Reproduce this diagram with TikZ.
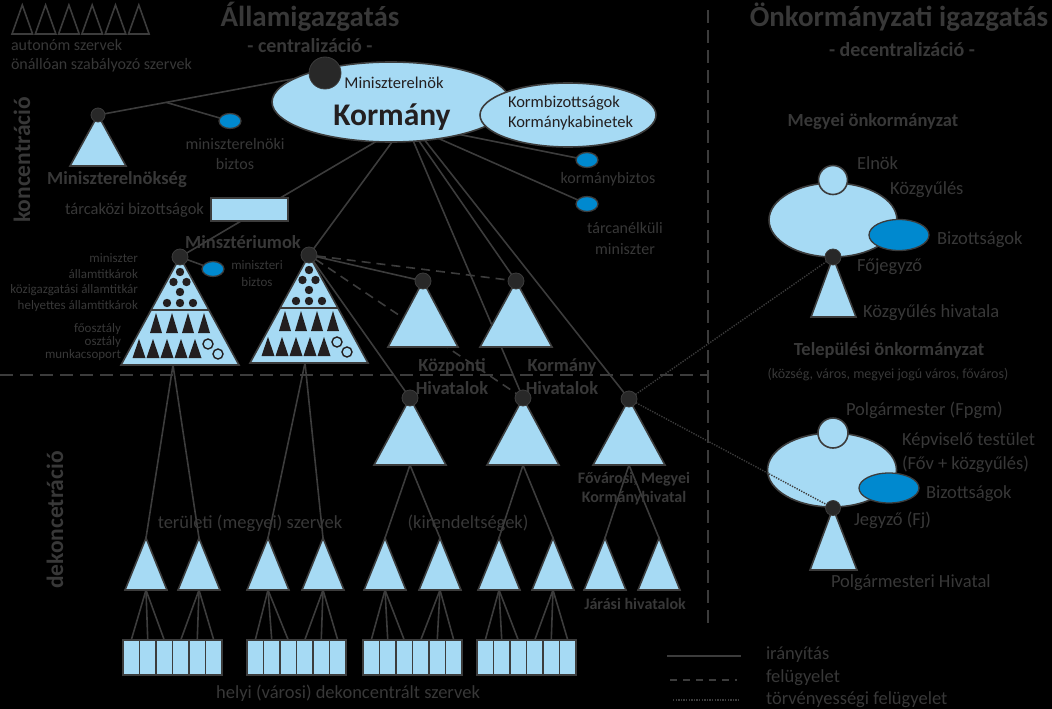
\documentclass[tikz,border=0pt]{standalone}
\usepackage{fontspec}
\setmainfont{Carlito}
\usetikzlibrary{shapes.geometric}
\pgfdeclarelayer{bg}
\pgfsetlayers{bg,main}
\definecolor{tg}{HTML}{383838}
\definecolor{lg}{HTML}{3C3C3C}
\definecolor{lb}{HTML}{A6DAF4}
\definecolor{db}{HTML}{0089CF}
\definecolor{dk}{HTML}{282828}
\definecolor{ink}{HTML}{231F20}
\tikzset{
  lbl/.style={text=tg, inner sep=0pt, outer sep=0pt, font=\fontsize{18.5}{22}\selectfont},
  lblb/.style={lbl, font=\bfseries\fontsize{18.5}{23}\selectfont},
  lblm/.style={lbl, font=\fontsize{16}{20.5}\selectfont},
  lbls/.style={lbl, font=\fontsize{13}{15.7}\selectfont},
  conn/.style={draw=lg, line width=1.6pt},
  supv/.style={conn, dash pattern=on 9pt off 6pt},
  legal/.style={draw=lg, line width=1.4pt, dash pattern=on 1.3pt off 1.3pt},
  divider/.style={draw=lg, line width=1.6pt, dash pattern=on 13pt off 7pt},
  tristyle/.style={fill=lb, draw=lg, line width=1.6pt, line join=miter},
  hub/.style={circle, fill=dk, draw=lg, line width=0.8pt, minimum size=16pt, inner sep=0pt, outer sep=0pt},
  blueov/.style={ellipse, fill=db, draw=lg, line width=1.3pt, minimum width=22pt, minimum height=15pt, inner sep=0pt, outer sep=0pt},
  lightov/.style={ellipse, fill=lb, draw=lg, line width=1.6pt, inner sep=0pt, outer sep=0pt},
  rectst/.style={rectangle, fill=lb, draw=lg, line width=1.6pt, minimum width=16.5pt, minimum height=35pt, inner sep=0pt, outer sep=0pt},
}
\begin{document}
\begin{tikzpicture}[x=1pt,y=-1pt]
\begin{pgfonlayer}{bg}
\fill[black] (0,0) rectangle (1052,709);
\end{pgfonlayer}
\useasboundingbox (0,0) rectangle (1052,709);

% autonomous organs legend
\foreach \x in {12,35.3,58.6,81.9,105.2,128.5}
  \draw[draw=lg, line width=1.6pt, line join=miter] (\x,34) -- (\x+10.3,5) -- (\x+20.6,34) -- cycle;
\node[lblm, anchor=west] (aut1) at (11,45) {autonóm szervek};
\node[lblm, anchor=west] (aut2) at (11,65) {önállóan szabályozó szervek};

% titles
\node[lbl, font=\bfseries\fontsize{29}{34}\selectfont] (t1) at (310,17) {Államigazgatás};
\node[lbl, font=\bfseries\fontsize{20}{24}\selectfont] (t1s) at (310,46) {- centralizáció -};
\node[lbl, font=\bfseries\fontsize{29}{34}\selectfont] (t2) at (899,17) {Önkormányzati igazgatás};
\node[lbl, font=\bfseries\fontsize{20}{24}\selectfont] (t2s) at (902,50) {- decentralizáció -};
\node[lbl, font=\bfseries\fontsize{23.5}{28}\selectfont, rotate=90] (konc) at (22,160) {koncentráció};
\node[lbl, font=\bfseries\fontsize{23.5}{28}\selectfont, rotate=90] (dekonc) at (55,520) {dekoncetráció};

% Kormány
\node[lightov, minimum width=238pt, minimum height=80pt] (korm) at (391,102) {};
\node[lightov, minimum width=176pt, minimum height=64pt] (kbiz) at (568,115) {};
\node[hub, minimum size=32pt] (pm) at (325,73) {};
\node[lbl, text=ink, font=\fontsize{16.5}{20}\selectfont] (pmt) at (394,83) {Miniszterelnök};
\node[lbl, text=ink, font=\bfseries\fontsize{31.5}{36}\selectfont] (kormt) at (392,117) {Kormány};
\node[lbl, text=ink, font=\fontsize{16.5}{20}\selectfont, align=left, anchor=west] (kbizt) at (508,113) {Kormbizottságok\\Kormánykabinetek};

% Miniszterelnökség
\draw[tristyle] (98,115) -- (126,166) -- (70,166) -- cycle;
\node[hub, minimum size=14pt] (pmsg) at (98,115) {};
\node[lblb] (pmsgt) at (117,180) {Miniszterelnökség};
\node[blueov] (pmbiz) at (230,121) {};
\node[lblm, align=center] (pmbizt) at (235,154) {miniszterelnöki\\biztos};

\node[rectst, minimum width=77pt, minimum height=23pt] (tkb) at (249.5,209.5) {};
\node[lbl, anchor=east, font=\fontsize{16.5}{20}\selectfont] (tkbt) at (204,210) {tárcaközi bizottságok};

\node[blueov] (kbt) at (587,160) {};
\node[lblm] (kbtt) at (608,179) {kormánybiztos};
\node[blueov] (tnm) at (587,204) {};
\node[lblm, align=center] (tnmt) at (625,238.5) {tárcanélküli\\miniszter};

% Ministries
\node[lblb] (mint) at (243,242) {Minsztériumok};
\foreach \mx/\my in {180/257, 309/255} {
\begin{scope}[shift={(\mx,\my)}]
  \draw[tristyle] (0,0) -- (59,108) -- (-59,108) -- cycle;
  \draw[draw=lg, line width=1.6pt] (-29,53) -- (29,53);
  \foreach \px/\py in {0/15,-6.5/25,6.5/25,0/35,-13/46,0/46,13/46}
    \fill[ink] (\px,\py) circle [radius=4.2];
  \foreach \c in {-24,-8,8,24}
    \fill[ink] (\c,56) -- (\c+6,76) -- (\c-6,76) -- cycle;
  \foreach \c in {-41,-27,-13,1,15}
    \fill[ink] (\c,82) -- (\c+6.5,101) -- (\c-6.5,101) -- cycle;
  \draw[ink, line width=1.4pt] (28,87) circle [radius=5];
  \draw[ink, line width=1.4pt] (38,97) circle [radius=5];
\end{scope}
}
\node[hub] (m1) at (180,257) {};
\node[hub] (m2) at (309,255) {};
\coordinate (m1b) at (173,365);
\coordinate (m2b) at (305,363);
\node[lbls, align=right, anchor=east] (m1lab) at (138,282.5) {miniszter\\államtitkárok\\közigazgatási államtitkár\\helyettes államtitkárok};
\node[lbl, align=right, anchor=east, font=\fontsize{13}{13}\selectfont] (m1lab2) at (121,342) {főosztály\\osztály\\munkacsoport};
\node[blueov] (mbiz) at (213,269) {};
\node[lbl, align=center, font=\fontsize{13}{17}\selectfont] (mbizt) at (257,273.5) {miniszteri\\biztos};

% central offices
\draw[tristyle] (423,281) -- (458,347) -- (388,347) -- cycle;
\node[hub] (kp) at (423,281) {};
\draw[tristyle] (516,281) -- (552,347) -- (480,347) -- cycle;
\node[hub] (kh) at (516,281) {};
\node[lblb, align=center] (kpt) at (452,376.5) {Központi\\Hivatalok};
\node[lblb, align=center] (kht) at (562,376.5) {Kormány\\Hivatalok};

% lower offices
\foreach \n/\lx/\ly in {l1/410/398, l2/523/398, l3/629/399} {
  \draw[tristyle] (\lx,\ly) -- (\lx+36,465) -- (\lx-36,465) -- cycle;
  \node[hub] (\n) at (\lx,\ly) {};
  \coordinate (b\n) at (\lx,465);
}
\node[lbl, align=center, font=\bfseries\fontsize{16}{19}\selectfont] (fmk) at (634,488.5) {Fővárosi, Megyei\\Kormányhivatal};

% district organs
\foreach \x [count=\i] in {146,199,268,323,385,440,499,553,605,659} {
  \draw[tristyle] (\x,538) -- (\x+21,590) -- (\x-21,590) -- cycle;
  \coordinate (dt\i) at (\x,538);
  \coordinate (db\i) at (\x,590);
}
\node[lbl] (terul) at (250,523) {területi (megyei) szervek};
\node[lbl] (kirend) at (468,523) {(kirendeltségek)};
\node[lbl, font=\bfseries\fontsize{16}{19}\selectfont] (jaras) at (635,604) {Járási hivatalok};

% local organs
\foreach \gx [count=\g] in {123,247,363,477} {
  \foreach \i in {1,...,6} {
    \node[rectst] (r\g-\i) at (\gx+16.5*\i-8.25, 657.5) {};
  }
}
\node[lbl] (helyi) at (348,693) {helyi (városi) dekoncentrált szervek};

% county self-government
\node[lblb] (megyt) at (873,122) {Megyei önkormányzat};
\node[lightov, minimum width=128pt, minimum height=74pt] (kgy) at (833,220) {};
\draw[tristyle] (833,257) -- (856,317) -- (811,317) -- cycle;
\node[lightov, circle, minimum size=29pt] (elnok) at (833,180) {};
\node[blueov, minimum width=60pt, minimum height=31pt] (mbizo) at (899,235) {};
\node[hub] (fj) at (833,257) {};
\node[lbl, anchor=west] (elnokt) at (857,163) {Elnök};
\node[lbl, anchor=west] (kgyt) at (890,190) {Közgyűlés};
\node[lbl, anchor=west] (mbizot) at (937,240) {Bizottságok};
\node[lbl, anchor=west] (fjt) at (857,267) {Főjegyző};
\node[lbl, anchor=west] (khiv) at (863,313) {Közgyűlés hivatala};

% settlement self-government
\node[lblb] (telt) at (889,350) {Települési önkormányzat};
\node[lbl, font=\fontsize{14}{17}\selectfont] (telsub) at (888,375) {(község, város, megyei jogú város, főváros)};
\node[lightov, minimum width=129pt, minimum height=74pt] (ke) at (832,470) {};
\draw[tristyle] (833,508) -- (857,570) -- (810,570) -- cycle;
\node[lightov, circle, minimum size=30pt] (pgm) at (833,433) {};
\node[blueov, minimum width=60pt, minimum height=30pt] (tbizo) at (889,488) {};
\node[hub, minimum size=15pt] (jg) at (833,508) {};
\node[lbl, anchor=west] (pgmt) at (846,410) {Polgármester (Fpgm)};
\node[lbl, anchor=west, align=left, font=\fontsize{18.5}{24}\selectfont] (ket) at (902,453) {Képviselő testület\\(Főv + közgyűlés)};
\node[lbl, anchor=west] (tbizot) at (926,494) {Bizottságok};
\node[lbl, anchor=west] (jgt) at (854,520) {Jegyző (Fj)};
\node[lbl, anchor=west] (phiv) at (831,583) {Polgármesteri Hivatal};

% legality supervision
\draw[legal] (l3) -- (fj);
\draw[legal] (l3) -- (jg);

% dividers
\coordinate (vtop) at (708,10);
\coordinate (vbot) at (708,628);
\coordinate (hl) at (0,375);
\coordinate (hr) at (708,375);
\draw[divider] (vtop) -- (vbot);
\draw[divider] (hl) -- (hr);

% legend
\coordinate (la1) at (667,656); \coordinate (lb1) at (741,656);
\coordinate (la2) at (670,680); \coordinate (lb2) at (737,680);
\coordinate (la3) at (673,700); \coordinate (lb3) at (740,700);
\draw[conn] (la1) -- (lb1);
\draw[supv, dash pattern=on 7pt off 6pt] (la2) -- (lb2);
\draw[legal] (la3) -- (lb3);
\node[lbl, anchor=west] (leg1) at (766,655) {irányítás};
\node[lbl, anchor=west] (leg2) at (766,678) {felügyelet};
\node[lbl, anchor=west] (leg3) at (766,700) {törvényességi felügyelet};

% connectors behind shapes
\begin{pgfonlayer}{bg}
\draw[conn] (pm) -- coordinate[pos=0.7] (brA) (pmsg);
\draw[conn] (brA) -- (pmbiz);
\draw[conn] ([shift={(-9,-4)}]korm.south) -- (m1);
\draw[conn] ([shift={(4,-4)}]korm.south) -- (m2);
\draw[conn] ([shift={(21,-4)}]korm.south) -- (l2);
\draw[conn] ([shift={(26,-4)}]korm.south) -- (kh);
\draw[conn] ([shift={(32,-4)}]korm.south) -- (l3);
\draw[conn] ([shift={(42,-6)}]korm.south) -- (tnm);
\draw[conn] ([shift={(66,-8)}]korm.south) -- (kbt);
\draw[conn] (m1) -- (mbiz);
\draw[conn] (m2) -- (kp);
\draw[supv] (m2) -- (kh);
\draw[supv] (m2) -- (l2);
\draw[conn] (m2) -- (l1);
\draw[conn] (m1b) -- (dt1);
\draw[conn] (m1b) -- (dt2);
\draw[conn] (m2b) -- (dt3);
\draw[conn] (m2b) -- (dt4);
\draw[conn] (bl1) -- (dt5);
\draw[conn] (bl1) -- (dt6);
\draw[conn] (bl2) -- (dt7);
\draw[conn] (bl2) -- (dt8);
\draw[conn] (bl3) -- (dt9);
\draw[conn] (bl3) -- (dt10);
\foreach \g in {1,...,4} {
  \pgfmathtruncatemacro\ta{2*\g-1}
  \pgfmathtruncatemacro\tb{2*\g}
  \foreach \i in {1,2,3} \draw[conn] (db\ta) -- (r\g-\i.north);
  \foreach \i in {4,5,6} \draw[conn] (db\tb) -- (r\g-\i.north);
}
\end{pgfonlayer}
\end{tikzpicture}
\end{document}
